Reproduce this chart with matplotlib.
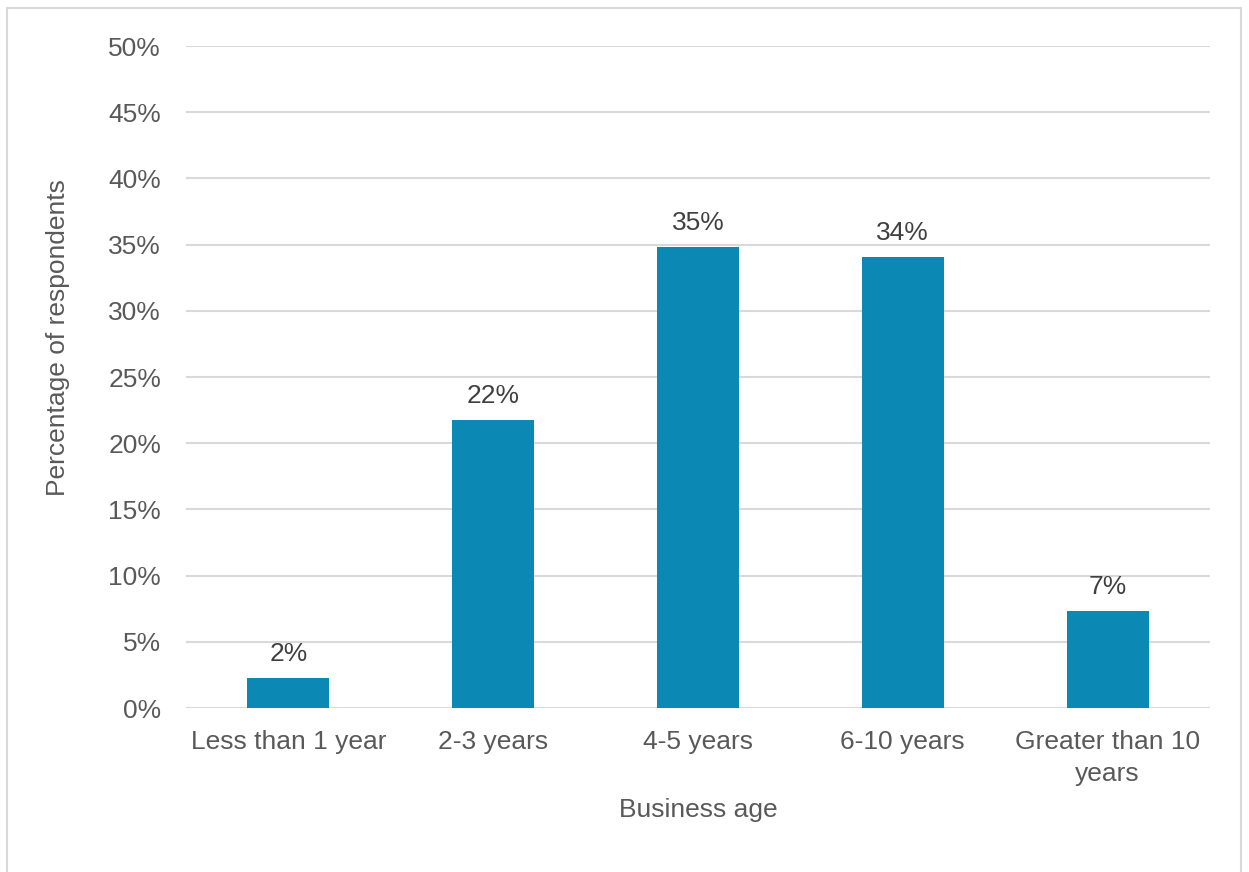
import matplotlib.pyplot as plt
from matplotlib.patches import Rectangle
from matplotlib.ticker import MultipleLocator, PercentFormatter

plt.rcParams["font.family"] = ["Liberation Sans", "DejaVu Sans"]

categories = ["Less than 1 year", "2-3 years", "4-5 years", "6-10 years",
              "Greater than 10\nyears"]
values = [2.25, 21.75, 34.8, 34.05, 7.3]
labels = ["2%", "22%", "35%", "34%", "7%"]

W, H = 1249, 872
FS = 19
fig = plt.figure(figsize=(W / 100, H / 100), dpi=100)
ax = fig.add_axes([186 / W, 1 - 708 / H, (1210 - 186) / W, (708 - 46) / H])

# outer chart frame (cut at the bottom like the source)
fig.patches.append(Rectangle((7 / W, -0.01), (1241 - 7) / W, 1 - 8 / H + 0.01,
                             transform=fig.transFigure, fill=False,
                             edgecolor="#D9D9D9", linewidth=1.5))

x = range(len(categories))
ax.bar(x, values, width=0.4, color="#0B88B3", zorder=3)
for xi, v, lab in zip(x, values, labels):
    ax.text(xi, v + 0.9, lab, ha="center", va="bottom", fontsize=FS,
            color="#404040")

ax.set_xlim(-0.5, len(categories) - 0.5)
ax.set_ylim(0, 50)
ax.yaxis.set_major_locator(MultipleLocator(5))
ax.yaxis.set_major_formatter(PercentFormatter(decimals=0))
ax.grid(axis="y", color="#D9D9D9", linewidth=1.5, zorder=0)
for s in ax.spines.values():
    s.set_visible(False)
ax.tick_params(length=0, labelsize=FS, labelcolor="#595959")
ax.tick_params(axis="y", pad=18)
ax.tick_params(axis="x", pad=16)
ax.set_xticks(list(x))
ax.set_xticklabels(categories, linespacing=1.4)
ax.set_xlabel("Business age", fontsize=FS, color="#595959", labelpad=9)
ax.set_ylabel("Percentage of respondents", fontsize=FS, color="#595959")
ax.yaxis.set_label_coords(-0.113, 0.56)

fig.savefig("out.png", dpi=100)
